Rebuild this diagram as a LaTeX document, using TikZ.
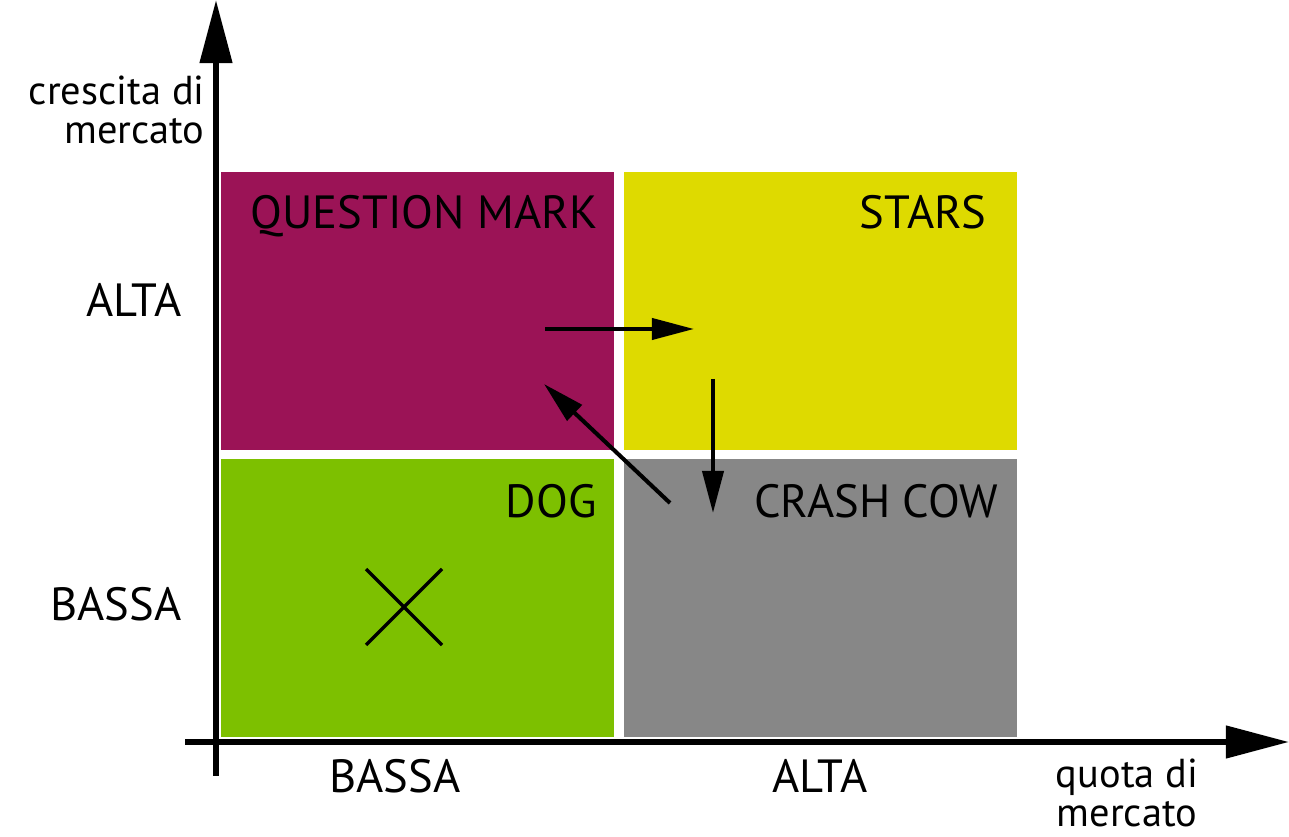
\documentclass[tikz,border=0pt]{standalone}
\usepackage{fontspec}
\setmainfont{PT Sans}
\usetikzlibrary{arrows.meta,positioning}

\definecolor{qmark}{RGB}{155,19,86}
\definecolor{stars}{RGB}{222,218,0}
\definecolor{dog}{RGB}{125,192,0}
\definecolor{cow}{RGB}{135,135,135}

\tikzset{
  quad/.style={minimum width=393\pgfxunit, minimum height=278\pgfxunit, inner sep=0pt, anchor=north west},
  big/.style={font=\fontsize{26.5}{30}\selectfont, inner sep=0pt},
  small/.style={font=\fontsize{23}{22.5}\selectfont, inner sep=0pt},
  axis/.style={line width=3.4pt, -{Triangle[length=36pt, width=18pt]}},
  move/.style={line width=2.3pt, -{Triangle[length=24pt, width=12pt]}}
}
\newlength{\pgfxunit}
\setlength{\pgfxunit}{0.02cm}

\begin{document}
\begin{tikzpicture}[x=0.02cm, y=-0.02cm]
     \useasboundingbox (0,0) rectangle (1289,837);
     % the four fields
     \node[quad, fill=qmark] (qm) at (221,172) {};
     \node[quad, fill=stars] (st) at (624,172) {};
     \node[quad, fill=dog] (dg) at (221,459) {};
     \node[quad, fill=cow] (cc) at (624,459) {};
     \node[big, anchor=base] (qmt) at (424,229) {QUESTION MARK};
     \node[big, anchor=base east] (stt) at (987,229) {STARS};
     \node[big, anchor=base east] (dgt) at (597,518) {DOG};
     \node[big, anchor=base east] (cct) at (998,518) {CRASH COW};
     % axes
     \coordinate (o1) at (216,776);
     \coordinate (y1) at (216,0);
     \coordinate (o2) at (185,742);
     \coordinate (x1) at (1289,742);
     \draw[axis] (o1) -- (y1);
     \draw[axis] (o2) -- (x1);
     \node[big, anchor=base east] (ya) at (182,317) {ALTA};
     \node[big, anchor=base east] (yb) at (182,621) {BASSA};
     \node[big, anchor=base] (xb) at (395,793) {BASSA};
     \node[big, anchor=base] (xa) at (820,793) {ALTA};
     \node[small, align=right, anchor=east] (ylab) at (205,110) {crescita di\\mercato};
     \node[small, align=center] (xlab) at (1127,793) {quota di\\mercato};
     % moves between fields
     \coordinate (a1) at (545,329);
     \coordinate (a2) at (694,329);
     \coordinate (b1) at (713,379);
     \coordinate (b2) at (713,513);
     \coordinate (c1) at (670,503);
     \coordinate (c2) at (544,384);
     \draw[move] (a1) -- (a2);
     \draw[move] (b1) -- (b2);
     \draw[move] (c1) -- (c2);
     % dog: drop it
     \coordinate (d1) at (366,569);
     \coordinate (d2) at (442,645);
     \coordinate (d3) at (366,645);
     \coordinate (d4) at (442,569);
     \draw[line width=2pt] (d1) -- (d2) (d3) -- (d4);
\end{tikzpicture}
\end{document}
